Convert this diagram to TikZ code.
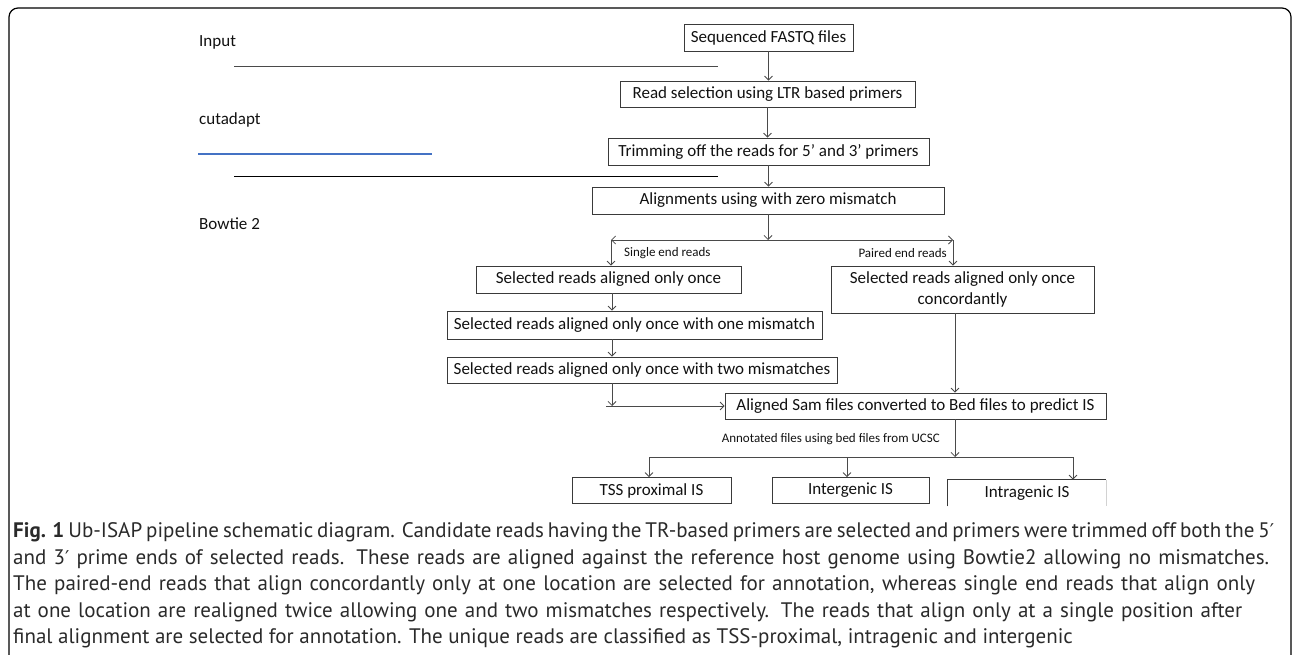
\documentclass[tikz,border=0pt]{standalone}
\usepackage{fontspec}
\setmainfont{Carlito}
\newfontfamily\capfont{PT Sans}
\newfontfamily\primefont{DejaVu Sans}
\newcommand{\myprime}{{\primefont\fontsize{19}{25}\selectfont ′}}
\usetikzlibrary{arrows.meta}
\definecolor{txt}{HTML}{111111}
\definecolor{boxgray}{HTML}{3A3A3A}
\definecolor{linegray}{HTML}{4A4A4A}
\definecolor{captxt}{HTML}{2A2A2A}
\definecolor{blueline}{HTML}{4472C4}
\tikzset{
  box/.style={draw=boxgray, line width=0.8pt, inner sep=0pt, align=center,
    font=\fontsize{17}{21}\selectfont, text=txt},
  arr/.style={draw=linegray, line width=0.8pt,
    -{Straight Barb[length=4pt,width=8pt,line width=0.8pt]}},
  ln/.style={draw=linegray, line width=0.8pt},
  small/.style={font=\fontsize{13}{15}\selectfont, text=txt, inner sep=0pt},
  lbl/.style={font=\fontsize{17}{20}\selectfont, text=txt, inner sep=0pt, anchor=west},
  captext/.style={font=\capfont\fontsize{21}{26}\selectfont, text=captxt, inner sep=0pt, anchor=base west},
}
\begin{document}
\begin{tikzpicture}[x=1pt,y=-1pt]
\useasboundingbox (0,0) rectangle (1292,655);
% frame
\draw[line width=1.2pt, rounded corners=9pt] (9,8) rectangle (1291,690);

% left labels and rules
\node[lbl] (inp) at (199,42) {Input};
\node[lbl] (cut) at (199,120) {cutadapt};
\node[lbl] (bow) at (199,224) {Bowtie 2};
\draw[line width=1pt, draw=linegray] (234,67) -- (718,67);
\draw[line width=1pt, draw=black] (234,177) -- (718,177);
\draw[line width=1.8pt, draw=blueline] (198,154) -- (432,154);

% boxes
\node[box, minimum width=169pt, minimum height=27pt] (fastq) at (768.5,37.5) {Sequenced FASTQ files};
\node[box, minimum width=295pt, minimum height=26pt] (rsel) at (767.5,94) {Read selection using LTR based primers};
\node[box, minimum width=321pt, minimum height=27pt] (trim) at (768.5,151.5) {Trimming off the reads for 5’ and 3’ primers};
\node[box, minimum width=352pt, minimum height=27pt] (align) at (768,200.5) {Alignments using with zero mismatch};
\node[box, minimum width=265pt, minimum height=27pt] (once) at (608.5,279.5) {Selected reads aligned only once};
\node[box, minimum width=375pt, minimum height=28pt] (one) at (634.5,325) {Selected reads aligned only once with one mismatch};
\node[box, minimum width=390pt, minimum height=26pt] (two) at (642,370) {Selected reads aligned only once with two mismatches};
\node[box, minimum width=263pt, minimum height=47pt] (conc) at (962.5,289.5) {Selected reads aligned only once\\concordantly};
\node[box, minimum width=381pt, minimum height=26pt] (sam) at (915.5,406) {Aligned Sam files converted to Bed files to predict IS};
\node[box, minimum width=159pt, minimum height=26pt] (tss) at (651.5,490.5) {TSS proximal IS};
\node[box, minimum width=157pt, minimum height=26pt] (inter) at (850.5,490.5) {Intergenic IS};
\node[box, draw=none, minimum width=158pt, minimum height=26pt] (intra) at (1027,493) {Intragenic IS};
\draw[draw=boxgray, line width=0.8pt] (intra.south west) |- (intra.north east);
\draw[draw=gray!35, line width=0.8pt] (intra.north east) -- (intra.south east);

% small labels
\node[small, anchor=west] (sel) at (624,253) {Single end reads};
\node[small, anchor=east] (pel) at (947,253) {Paired end reads};
\node[small, anchor=east] (ann) at (940,439) {Annotated files using bed files from UCSC};

% connectors
\draw[arr] (fastq.south) -- (fastq.south |- rsel.north);
\draw[arr] (rsel.south) -- (rsel.south |- trim.north);
\draw[arr] (trim.south) -- (trim.south |- align.north);
\coordinate (sp) at (768,240);
\coordinate (spl) at (611,240);
\coordinate (spr) at (953,240);
\draw[arr] (align.south) -- (sp);
\draw[arr] (sp) -- (spl);
\draw[arr] (sp) -- (spr);
\draw[arr] (spl) -- (spl |- once.north);
\draw[arr] (spr) -- (spr |- conc.north);
\coordinate (colL) at (612,0);
\coordinate (colR) at (955,0);
\draw[arr] (colL |- once.south) -- (colL |- one.north);
\draw[arr] (colL |- one.south) -- (colL |- two.north);
\coordinate (jn) at (612,406);
\coordinate (jns) at (606,406);
\draw[arr] (colL |- two.south) -- (jn);
\draw[arr] (jns) -- (sam.west);
\draw[arr] (colR |- conc.south) -- (colR |- sam.north);
\coordinate (bs) at (955,457);
\draw[arr] (colR |- sam.south) -- (bs);
\coordinate (b1) at (649,457);
\coordinate (b2) at (847,457);
\coordinate (b3) at (1073,457);
\draw[ln] (b1) -- (b3);
\draw[arr] (b1) -- (b1 |- tss.north);
\draw[arr] (b2) -- (b2 |- inter.north);
\draw[arr] (b3) -- (b3 |- intra.north);

% caption
\node[captext] (c1) at (13,537) {\makebox[1261pt][s]{\textbf{Fig. 1} Ub-ISAP pipeline schematic diagram. Candidate reads having the TR-based primers are selected and primers were trimmed off both the 5\myprime}};
\node[captext] (c2) at (13,564) {\makebox[1256pt][s]{and 3\myprime{} prime ends of selected reads. These reads are aligned against the reference host genome using Bowtie2 allowing no mismatches.}};
\node[captext] (c3) at (13,590) {\makebox[1242pt][s]{The paired-end reads that align concordantly only at one location are selected for annotation, whereas single end reads that align only}};
\node[captext] (c4) at (13,617) {\makebox[1229pt][s]{at one location are realigned twice allowing one and two mismatches respectively. The reads that align only at a single position after}};
\node[captext] (c5) at (13,643) {final alignment are selected for annotation. The unique reads are classified as TSS-proximal, intragenic and intergenic};
\end{tikzpicture}
\end{document}
